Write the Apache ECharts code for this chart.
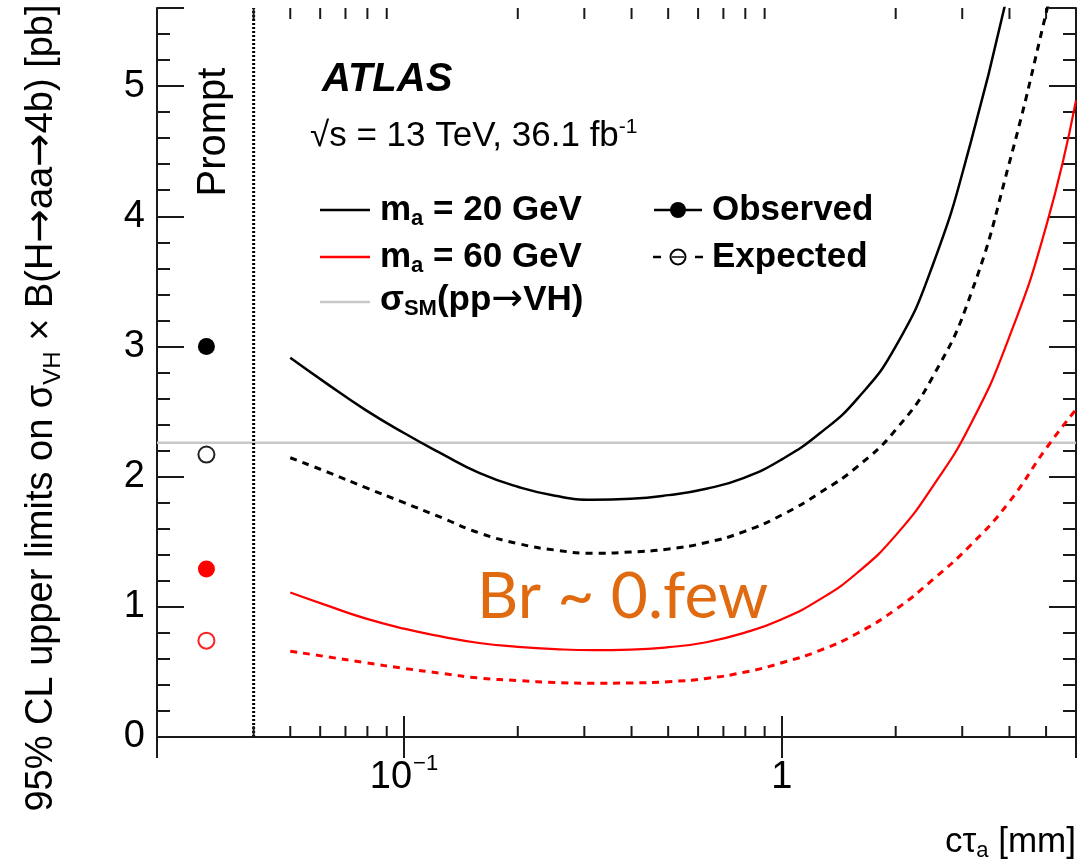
<!DOCTYPE html>
<html><head><meta charset="utf-8">
<script src="https://cdn.jsdelivr.net/npm/echarts@6/dist/echarts.min.js"></script>
<style>html,body{margin:0;padding:0;background:#fff}#c{width:1088px;height:866px}</style>
</head><body><div id="c"></div>
<script>
// ---- data ----
const ctau = [0.05, 0.063, 0.079, 0.1, 0.126, 0.158, 0.2, 0.251, 0.316, 0.398, 0.501, 0.631, 0.794, 1, 1.26, 1.58, 2, 2.51, 3.16, 3.98, 5.01, 6];
const obs20 = [2.913, 2.707, 2.513, 2.335, 2.175, 2.029, 1.922, 1.853, 1.823, 1.830, 1.858, 1.907, 1.991, 2.133, 2.333, 2.596, 3.0, 3.63, 4.568, 5.75, null, null];
const exp20 = [2.145, 2.033, 1.917, 1.800, 1.684, 1.568, 1.486, 1.436, 1.412, 1.421, 1.444, 1.494, 1.578, 1.706, 1.876, 2.075, 2.36, 2.77, 3.40, 4.39, 5.57, 6.55];
const obs60 = [1.11, 1.007, 0.911, 0.832, 0.771, 0.722, 0.693, 0.675, 0.667, 0.671, 0.69, 0.728, 0.80, 0.905, 1.057, 1.26, 1.549, 1.928, 2.405, 3.06, 3.93, 4.89];
const exp60 = [0.659, 0.615, 0.571, 0.527, 0.489, 0.453, 0.434, 0.419, 0.413, 0.415, 0.425, 0.45, 0.497, 0.57, 0.665, 0.795, 0.98, 1.21, 1.475, 1.80, 2.22, 2.516];
const promptCtau = [0.03];
const promptObs20 = [3.0];
const promptExp20 = [2.17];
const promptObs60 = [1.29];
const promptExp60 = [0.74];
const smXsec = [2.26];
const promptBoundary = [0.04];
const xRange = [0.0222, 6];
const yRange = [0, 5.6];
const xMinorTicks = [0.04, 0.05, 0.06, 0.07, 0.08, 0.09, 0.2, 0.3, 0.4, 0.5, 0.6, 0.7, 0.8, 0.9, 2, 3, 4, 5];
const yTickLabels = ['0', '1', '2', '3', '4', '5'];

const FONT = "'Liberation Sans', Arial, Helvetica, sans-serif";
const AFONT = "'DejaVu Sans', sans-serif";
const AXC = '#1a1a1a';
const pair = (xs, ys) => xs.map((x, i) => [x, ys[i]]);

const chart = echarts.init(document.getElementById('c'), null, {renderer: 'canvas'});

const xAxisBase = {
  type: 'log', logBase: 10, min: xRange[0], max: xRange[1],
  axisLine: {show: true, lineStyle: {color: AXC, width: 2}},
  axisTick: {show: true, inside: true, length: 21, lineStyle: {color: AXC, width: 2}},
  splitLine: {show: false}, minorTick: {show: false}, minorSplitLine: {show: false}
};
const yAxisBase = {
  type: 'value', min: yRange[0], max: yRange[1], interval: 1,
  axisLine: {show: true, lineStyle: {color: AXC, width: 2}},
  axisTick: {show: true, inside: true, length: 27, lineStyle: {color: AXC, width: 2}},
  minorTick: {show: true, splitNumber: 5, length: 13, lineStyle: {color: AXC, width: 2}},
  splitLine: {show: false}
};
const curve = (name, ys, color, width, dash) => ({
  type: 'line', name: name, data: pair(ctau, ys), smooth: 0.5,
  symbol: 'none', lineStyle: {color: color, width: width, type: dash || 'solid'}, z: 5
});
const marker = (name, ys, fill, border, size) => ({
  type: 'scatter', name: name, data: pair(promptCtau, ys), symbol: 'circle', symbolSize: size,
  itemStyle: {color: fill, borderColor: border || fill, borderWidth: border ? 2 : 0, opacity: 1}, z: 6
});

const option = {
  animation: false,
  backgroundColor: '#fff',
  grid: {left: 157, right: 12, top: 8, bottom: 129},
  xAxis: [
    Object.assign({}, xAxisBase, {
      position: 'bottom',
      axisLabel: {
        show: true, margin: 16, color: '#000', fontFamily: FONT, fontSize: 38,
        formatter: function (v) {
          if (Math.abs(v - 0.1) < 1e-6) return '{n|10}{p|−1}';
          if (Math.abs(v - 1) < 1e-6) return '{n|1}';
          return '';
        },
        rich: {
          n: {fontFamily: FONT, fontSize: 38, color: '#000', lineHeight: 44, verticalAlign: 'bottom'},
          p: {fontFamily: FONT, fontSize: 22, color: '#000', lineHeight: 44, verticalAlign: 'top', padding: [0, 0, 0, 1]}
        }
      }
    }),
    Object.assign({}, xAxisBase, {position: 'top', axisLabel: {show: false}})
  ],
  yAxis: [
    Object.assign({}, yAxisBase, {
      position: 'left',
      axisLabel: {
        show: true, margin: 12, color: '#000', fontFamily: FONT, fontSize: 38,
        formatter: function (v) {
          const i = yTickLabels.indexOf(String(Math.round(v)));
          return (Math.abs(v - Math.round(v)) < 1e-6 && i >= 0) ? yTickLabels[i] : '';
        }
      }
    }),
    Object.assign({}, yAxisBase, {position: 'right', axisLabel: {show: false}})
  ],
  series: [
    {
      type: 'line', name: 'SM', data: [[xRange[0], smXsec[0]], [xRange[1], smXsec[0]]],
      symbol: 'none', lineStyle: {color: '#c8c8c8', width: 2.5}, silent: true, z: 1
    },
    {
      type: 'line', name: 'boundary', data: [[promptBoundary[0], yRange[0]], [promptBoundary[0], yRange[1]]],
      symbol: 'none', lineStyle: {color: '#000', width: 3, type: [2, 2]}, silent: true, z: 2
    },
    {
      type: 'custom', name: 'minorTicks', silent: true, clip: false, z: 3,
      data: xMinorTicks.map(v => [v, 0]),
      encode: {x: 0, y: 1},
      renderItem: function (params, api) {
        const x = api.coord([api.value(0), 0])[0];
        const cs = params.coordSys;
        const st = {stroke: AXC, lineWidth: 2};
        return {type: 'group', children: [
          {type: 'line', shape: {x1: x, y1: cs.y + cs.height, x2: x, y2: cs.y + cs.height - 11}, style: st},
          {type: 'line', shape: {x1: x, y1: cs.y, x2: x, y2: cs.y + 11}, style: st}
        ]};
      }
    },
    curve('obs20', obs20, '#000', 2.5),
    curve('exp20', exp20, '#000', 3, [7, 6]),
    curve('obs60', obs60, '#ff0000', 2.2),
    curve('exp60', exp60, '#ff0000', 3, [7, 6]),
    marker('pObs20', promptObs20, '#000', null, 17),
    marker('pExp20', promptExp20, '#fff', '#222', 16),
    marker('pObs60', promptObs60, '#ff0000', null, 17),
    marker('pExp60', promptExp60, '#fff', '#ff2020', 16)
  ],
  graphic: [
    // y-axis title
    {type: 'text', x: 42, y: 408, rotation: Math.PI / 2, z: 10,
      style: {text: '95% CL upper limits on σ{s|VH} × B(H{ar|→}aa{ar|→}4b) [pb]', fill: '#000', align: 'center', verticalAlign: 'middle',
        font: '38px ' + FONT,
        rich: {
          s: {fontSize: 24, fontFamily: FONT, fill: '#000', verticalAlign: 'bottom', lineHeight: 46, padding: [14, 0, 0, 0]},
          ar: {fontSize: 40, fontFamily: AFONT, fill: '#000'}
        }}},
    // x-axis title
    {type: 'text', x: 1076, y: 842, z: 10,
      style: {text: 'cτ{s|a} [mm]', fill: '#000', align: 'right', verticalAlign: 'middle', font: '35px ' + FONT,
        rich: {s: {fontSize: 22, fontFamily: FONT, fill: '#000', padding: [18, 0, 0, 0]}}}},
    // Prompt
    {type: 'text', x: 214, y: 132, rotation: Math.PI / 2, z: 10,
      style: {text: 'Prompt', fill: '#000', align: 'center', verticalAlign: 'middle', font: '40px ' + FONT}},
    // ATLAS
    {type: 'text', x: 322, y: 80, z: 10,
      style: {text: 'ATLAS', fill: '#000', align: 'left', verticalAlign: 'middle', font: 'italic bold 40px ' + FONT}},
    {type: 'text', x: 310, y: 136, z: 10,
      style: {text: '√s = 13 TeV, 36.1 fb{p|-1}', fill: '#000', align: 'left', verticalAlign: 'middle', font: '35px ' + FONT,
        rich: {p: {fontSize: 21, fontFamily: FONT, fill: '#000', padding: [0, 0, 18, 0]}}}},
    // legend rows
    {type: 'line', shape: {x1: 320, y1: 210, x2: 370, y2: 210}, style: {stroke: '#000', lineWidth: 2.5}, z: 10},
    {type: 'text', x: 380, y: 210, z: 10,
      style: {text: 'm{s|a} = 20 GeV', fill: '#000', align: 'left', verticalAlign: 'middle', font: 'bold 35px ' + FONT,
        rich: {s: {fontSize: 22, fontWeight: 'bold', fontFamily: FONT, fill: '#000', padding: [17, 0, 0, 0]}}}},
    {type: 'line', shape: {x1: 320, y1: 257, x2: 370, y2: 257}, style: {stroke: '#ff0000', lineWidth: 2.5}, z: 10},
    {type: 'text', x: 380, y: 257, z: 10,
      style: {text: 'm{s|a} = 60 GeV', fill: '#000', align: 'left', verticalAlign: 'middle', font: 'bold 35px ' + FONT,
        rich: {s: {fontSize: 22, fontWeight: 'bold', fontFamily: FONT, fill: '#000', padding: [17, 0, 0, 0]}}}},
    {type: 'line', shape: {x1: 320, y1: 302, x2: 370, y2: 302}, style: {stroke: '#c8c8c8', lineWidth: 2.5}, z: 10},
    {type: 'text', x: 380, y: 300, z: 10,
      style: {text: 'σ{s|SM}(pp{ar|→}VH)', fill: '#000', align: 'left', verticalAlign: 'middle', font: 'bold 35px ' + FONT,
        rich: {
          s: {fontSize: 22, fontWeight: 'bold', fontFamily: FONT, fill: '#000', padding: [17, 0, 0, 0]},
          ar: {fontSize: 38, fontFamily: AFONT, fill: '#000'}
        }}},
    {type: 'line', shape: {x1: 654, y1: 210, x2: 702, y2: 210}, style: {stroke: '#000', lineWidth: 2.5}, z: 10},
    {type: 'circle', shape: {cx: 678, cy: 210, r: 8}, style: {fill: '#000'}, z: 11},
    {type: 'text', x: 712, y: 210, z: 10,
      style: {text: 'Observed', fill: '#000', align: 'left', verticalAlign: 'middle', font: 'bold 35px ' + FONT}},
    {type: 'line', shape: {x1: 653, y1: 257, x2: 661, y2: 257}, style: {stroke: '#000', lineWidth: 2.5}, z: 10},
    {type: 'line', shape: {x1: 695, y1: 257, x2: 703, y2: 257}, style: {stroke: '#000', lineWidth: 2.5}, z: 10},
    {type: 'circle', shape: {cx: 678, cy: 257, r: 7.5}, style: {fill: '#fff', stroke: '#000', lineWidth: 2}, z: 11},
    {type: 'line', shape: {x1: 672, y1: 257, x2: 684, y2: 257}, style: {stroke: '#000', lineWidth: 1.5}, z: 12},
    {type: 'text', x: 712, y: 257, z: 10,
      style: {text: 'Expected', fill: '#000', align: 'left', verticalAlign: 'middle', font: 'bold 35px ' + FONT}},
    // annotation
    {type: 'text', x: 477, y: 597, z: 10,
      style: {text: 'Br ~ 0.few', fill: '#E06A10', align: 'left', verticalAlign: 'middle', font: '64px Lato, "Open Sans", sans-serif'}}
  ]
};
chart.setOption(option);
</script>
</body></html>
